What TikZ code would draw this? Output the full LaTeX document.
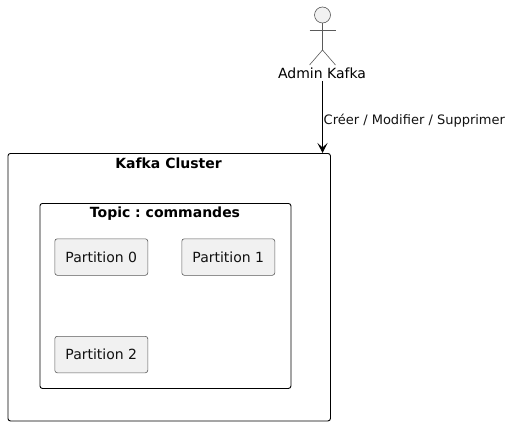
\documentclass[tikz,border=0pt]{standalone}
\usepackage{fontspec}
\setmainfont{DejaVu Sans}
\usetikzlibrary{arrows.meta}
\definecolor{pfill}{HTML}{F1F1F1}
\definecolor{pline}{HTML}{5A5A5A}
\definecolor{ink}{HTML}{111111}
\frenchspacing
\tikzset{
  x=1pt,y=-1pt,
  frame/.style={draw=black,line width=.9pt,rounded corners=2.5pt,fill=white,inner sep=0pt,anchor=north west},
  part/.style={draw=pline,line width=.6pt,fill=pfill,rounded corners=2.5pt,inner sep=0pt,minimum width=93pt,minimum height=36.5pt,font=\fontsize{14}{16}\selectfont,text=ink,anchor=north west},
  title/.style={font=\fontsize{14}{16}\selectfont\bfseries,text=black,inner sep=0pt},
  stick/.style={draw=pline,line width=.6pt},
  conn/.style={draw=black,line width=.9pt,-{Stealth[length=10pt,width=10pt,inset=4.5pt]}},
  lbl/.style={font=\fontsize{13}{15}\selectfont,text=ink,inner sep=0pt,anchor=west},
}
\begin{document}
\begin{tikzpicture}
\useasboundingbox (0,0) rectangle (511,425);
\node[frame,minimum width=322.5pt,minimum height=267.5pt] (cluster) at (7.5,153) {};
\node[title] (clustertitle) at (168.5,163.5) {Kafka Cluster};
\node[frame,minimum width=251pt,minimum height=185pt] (topic) at (39.5,203) {};
\node[title] (topictitle) at (165,214) {Topic : commandes};
\node[part] (p0) at (54.5,238.5) {Partition 0};
\node[part] (p1) at (181.5,238.5) {Partition 1};
\node[part] (p2) at (54.5,336) {Partition 2};
% actor
\node[circle,draw=pline,line width=.6pt,fill=pfill,minimum size=16pt,inner sep=0pt] (head) at (322.5,15) {};
\coordinate (hip) at (322.5,50);
\coordinate (armL) at (309.5,30);
\coordinate (armR) at (335.5,30);
\coordinate (legL) at (309.5,65);
\coordinate (legR) at (335.5,65);
\draw[stick] (head.south) -- (hip);
\draw[stick] (armL) -- (armR);
\draw[stick] (legL) -- (hip) -- (legR);
\node[font=\fontsize{14}{16}\selectfont,text=black,inner sep=0pt] (admin) at (322,73) {Admin Kafka};
\coordinate (start) at (322.5,81);
\coordinate (end) at (322.5,153);
\draw[conn] (start) -- (end);
\node[lbl] (label) at (323.5,120.5) {Créer / Modifier / Supprimer};
\end{tikzpicture}
\end{document}
